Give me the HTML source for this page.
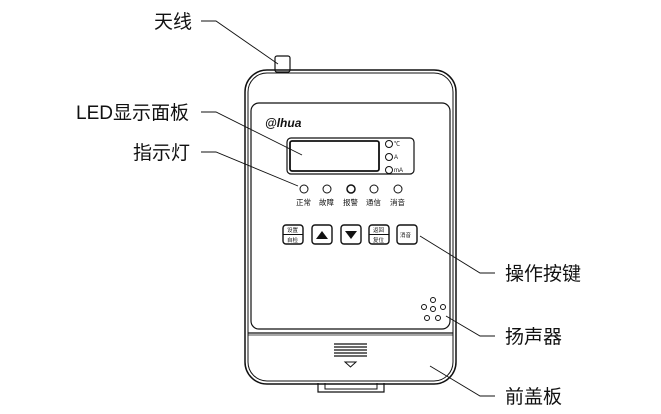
<!DOCTYPE html>
<html><head><meta charset="utf-8"><style>
html,body{margin:0;padding:0;background:#fff;}
svg{display:block;}
text{font-family:"Liberation Sans","Noto Sans CJK SC",sans-serif;fill:#111;}
</style></head><body>
<svg width="661" height="414" viewBox="0 0 661 414" xmlns="http://www.w3.org/2000/svg">
<g fill="none" stroke="#111">
<rect x="275" y="56" width="15" height="16" rx="2" stroke-width="1.2"/>
<path d="M318 383 V392 H384 V383" stroke-width="1.2"/>
<path d="M325 383 V389 H377 V383" stroke-width="1"/>
<rect x="245" y="70" width="211" height="314" rx="22" stroke-width="1.5"/>
<rect x="248" y="73" width="205" height="308" rx="19" stroke-width="1"/>
<rect x="251" y="103" width="199" height="226" rx="8" stroke-width="1.2"/>
<line x1="248" y1="333" x2="453" y2="333" stroke-width="1.2"/>
<line x1="248" y1="335" x2="453" y2="335" stroke-width="0.8"/>
<rect x="287" y="138" width="127" height="36" rx="4" stroke-width="1.2"/>
<rect x="290" y="141" width="89" height="30" rx="2" stroke-width="1.8"/>
<circle cx="389" cy="144" r="3.5"/><circle cx="389" cy="157" r="3.5"/><circle cx="389" cy="170" r="3.5"/>
<circle cx="304" cy="189" r="4"/><circle cx="327" cy="189" r="4"/><circle cx="351" cy="189" r="4" stroke-width="1.5"/><circle cx="374" cy="189" r="4"/><circle cx="398" cy="189" r="4"/>
<rect x="283" y="225" width="20" height="19" rx="3" stroke-width="1.4"/>
<line x1="283" y1="234.5" x2="303" y2="234.5"/>
<rect x="312" y="225" width="20" height="19" rx="3" stroke-width="1.4"/>
<rect x="341" y="225" width="20" height="19" rx="3" stroke-width="1.4"/>
<rect x="369" y="225" width="20" height="19" rx="3" stroke-width="1.4"/>
<line x1="369" y1="234.5" x2="389" y2="234.5"/>
<rect x="397" y="225" width="20" height="19" rx="3" stroke-width="1.4"/>
<circle cx="433" cy="300" r="2.5"/><circle cx="424" cy="307" r="2.5"/><circle cx="433" cy="309" r="2.5"/><circle cx="443" cy="307" r="2.5"/><circle cx="427" cy="318" r="2.5"/><circle cx="438" cy="318" r="2.5"/>
<g stroke-width="1.3"><line x1="334" y1="344" x2="367" y2="344"/><line x1="334" y1="347" x2="367" y2="347"/><line x1="334" y1="350" x2="367" y2="350"/><line x1="334" y1="353" x2="367" y2="353"/><line x1="334" y1="356" x2="367" y2="356"/></g>
<path d="M345 362 H356 L350.5 367 Z"/>
<g stroke-width="0.9">
<polyline points="201,21 216,21 278,64"/>
<polyline points="201,112 216,112 302,155"/>
<polyline points="201,152 216,152 298,186"/>
<polyline points="420,236 480,273 495,273"/>
<polyline points="446,316 480,336 495,336"/>
<polyline points="430,366 480,396 495,396"/>
</g>
</g>
<path d="M316 239 L322 231 L328 239 Z" fill="#111"/>
<path d="M345 231 L357 231 L351 239 Z" fill="#111"/>
<text x="265" y="127" font-size="12" font-style="italic" font-weight="bold">@lhua</text>
<g font-size="6"><text x="394" y="146">℃</text><text x="394" y="159">A</text><text x="394" y="172">mA</text></g>
<g font-size="7.5"><text x="296" y="205">正常</text><text x="319" y="205">故障</text><text x="343" y="205">报警</text><text x="366" y="205">通信</text><text x="390" y="205">消音</text></g>
<g font-size="5.5"><text x="287" y="232">设置</text><text x="287" y="242">自检</text><text x="373" y="232">返回</text><text x="373" y="242">复位</text><text x="400" y="237">消音</text></g>
<g font-size="19">
<text x="154" y="28">天线</text>
<text x="76" y="119">LED显示面板</text>
<text x="133" y="159">指示灯</text>
<text x="505" y="280">操作按键</text>
<text x="505" y="343">扬声器</text>
<text x="505" y="403">前盖板</text>
</g>
</svg>
</body></html>
